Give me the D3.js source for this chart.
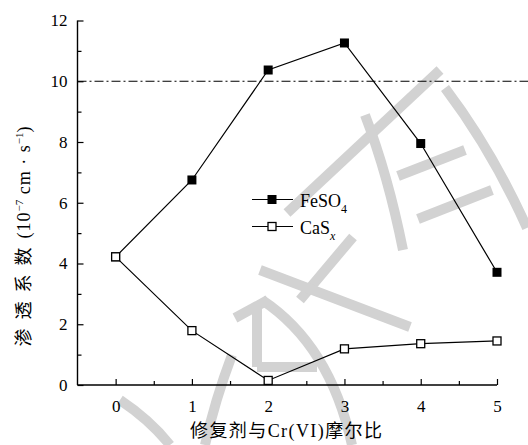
<!DOCTYPE html>
<html>
<head>
<meta charset="utf-8">
<script src="https://cdn.jsdelivr.net/npm/d3@7"></script>
<style>
  html, body { margin: 0; padding: 0; background: #fff; }
  svg { display: block; }
  text { font-family: "Liberation Serif", "Times New Roman", "Noto Sans CJK SC", serif; fill: #000; }
</style>
</head>
<body>
<svg id="chart" width="528" height="445"></svg>
<script>
// Molar ratio of remediation agent to Cr(VI)
const ratios = [0, 1, 2, 3, 4, 5];
// Permeability coefficient, 10^-7 cm/s
const feso4 = [4.22, 6.75, 10.37, 11.26, 7.95, 3.71];
const casx  = [4.22, 1.79, 0.15, 1.19, 1.36, 1.45];
const limitValue = 10;
const xTicks = [0, 1, 2, 3, 4, 5];
const xMinor = [0.5, 1.5, 2.5, 3.5, 4.5];
const yTicks = [0, 2, 4, 6, 8, 10, 12];
const yMinor = [1, 3, 5, 7, 9, 11];

const SERIF = "'Liberation Serif', 'Times New Roman', serif";
const CJK = "'Noto Sans CJK SC', sans-serif";

const svg = d3.select("#chart");
const W = 528;

const x = d3.scaleLinear().domain([-0.5, 5]).range([77.5, 497]);
const y = d3.scaleLinear().domain([0, 12]).range([385, 20.5]);

// light grey brush strokes in the background
const bgStrokes = [
  "M440,70 Q370,135 287,213",
  "M365,115 Q388,175 403,250",
  "M445,88 Q492,150 527,228",
  "M398,176 L465,150",
  "M418,219 L492,190",
  "M353,237 Q325,270 300,300",
  "M260,270 L410,327",
  "M262,300 Q330,345 352,445",
  "M257,308 L257,367",
  "M257,367 L317,367",
  "M235,318 L268,300",
  "M232,355 Q215,400 205,445",
  "M120,400 Q150,420 170,445"
];
svg.append("g")
  .selectAll("path").data(bgStrokes).join("path")
  .attr("d", d => d)
  .attr("fill", "none")
  .attr("stroke", "#d2d2d2")
  .attr("stroke-width", 10)
  .attr("stroke-linecap", "butt");

// y axis (ticks point inward)
const yAxis = svg.append("g").attr("transform", "translate(77.5,0)");
yAxis.call(d3.axisLeft(y).tickValues(yTicks).tickSize(-6).tickPadding(10).tickFormat(d3.format("d")));
yAxis.append("g").call(d3.axisLeft(y).tickValues(yMinor).tickSize(-4).tickFormat(""))
  .select(".domain").remove();

// x axis
const xAxis = svg.append("g").attr("transform", "translate(0,385)");
xAxis.call(d3.axisBottom(x).tickValues(xTicks).tickSize(-6).tickPadding(15).tickFormat(d3.format("d")));
xAxis.append("g").call(d3.axisBottom(x).tickValues(xMinor).tickSize(-4).tickFormat(""))
  .select(".domain").remove();

yAxis.select(".domain").attr("d", `M0,${y(12)}V${y(0)}`);
xAxis.select(".domain").attr("d", `M${x(-0.5)},0H${x(5)}`);

[yAxis, xAxis].forEach(g => g.attr("font-family", SERIF).attr("font-size", 17));
svg.selectAll(".tick line").attr("stroke", "#000").attr("stroke-width", 1.2);
svg.selectAll(".domain").attr("stroke", "#000").attr("stroke-width", 1.4);
svg.selectAll(".tick text")
  .attr("font-family", SERIF)
  .style("font-family", SERIF)
  .style("font-size", "17px")
  .attr("fill", "#000");

// reference level
svg.append("line")
  .attr("x1", x(-0.5)).attr("x2", W)
  .attr("y1", y(limitValue)).attr("y2", y(limitValue))
  .attr("stroke", "#000").attr("stroke-width", 1.2)
  .attr("stroke-dasharray", "9,3,2,3");

const line = d3.line().x((d, i) => x(ratios[i])).y(d => y(d));

// FeSO4 series
svg.append("path").datum(feso4)
  .attr("d", line).attr("fill", "none").attr("stroke", "#000").attr("stroke-width", 1.2);
// CaSx series
svg.append("path").datum(casx)
  .attr("d", line).attr("fill", "none").attr("stroke", "#000").attr("stroke-width", 1.2);

const s1 = 9, s2 = 8;
svg.append("g").selectAll("rect").data(feso4).join("rect")
  .attr("x", (d, i) => x(ratios[i]) - s1 / 2)
  .attr("y", d => y(d) - s1 / 2)
  .attr("width", s1).attr("height", s1)
  .attr("fill", "#000");
svg.append("g").selectAll("rect").data(casx).join("rect")
  .attr("x", (d, i) => x(ratios[i]) - s2 / 2)
  .attr("y", d => y(d) - s2 / 2)
  .attr("width", s2).attr("height", s2)
  .attr("fill", "#fff").attr("stroke", "#000").attr("stroke-width", 1.3);

// legend
const legend = svg.append("g");
const legItems = [
  { name: "FeSO", sub: "4", italic: false, filled: true, yy: 199.5 },
  { name: "CaS", sub: "x", italic: true, filled: false, yy: 226.5 }
];
legItems.forEach(it => {
  legend.append("line")
    .attr("x1", 252).attr("x2", 293).attr("y1", it.yy).attr("y2", it.yy)
    .attr("stroke", "#000").attr("stroke-width", 1.2);
  const s = it.filled ? s1 : s2;
  const r = legend.append("rect")
    .attr("x", 272 - s / 2).attr("y", it.yy - s / 2)
    .attr("width", s).attr("height", s);
  if (it.filled) r.attr("fill", "#000");
  else r.attr("fill", "#fff").attr("stroke", "#000").attr("stroke-width", 1.3);
  const t = legend.append("text")
    .attr("x", 300).attr("y", it.yy + 7)
    .style("font-family", SERIF)
    .style("font-size", "18px");
  t.append("tspan").text(it.name);
  t.append("tspan").attr("dy", 6).style("font-size", "12px")
    .style("font-style", it.italic ? "italic" : "normal").text(it.sub);
});

// axis titles
const yt = svg.append("text")
  .attr("transform", "translate(30,236.5) rotate(-90)")
  .attr("text-anchor", "middle")
  .style("font-family", SERIF)
  .style("font-size", "18px");
yt.append("tspan").style("font-family", CJK).style("letter-spacing", "9px").text("渗透系数");
yt.append("tspan").style("letter-spacing", "1px").text("(10");
yt.append("tspan").attr("dy", -7).style("font-size", "11px").text("−7");
yt.append("tspan").attr("dy", 7).style("letter-spacing", "1px").text(" cm · s");
yt.append("tspan").attr("dy", -7).style("font-size", "11px").text("−1");
yt.append("tspan").attr("dy", 7).text(")");

const xt = svg.append("text")
  .attr("x", 286).attr("y", 437)
  .attr("text-anchor", "middle")
  .attr("textLength", 192).attr("lengthAdjust", "spacing")
  .style("font-family", SERIF)
  .style("font-size", "18px");
xt.append("tspan").style("font-family", CJK).text("修复剂与");
xt.append("tspan").text("Cr(VI)");
xt.append("tspan").style("font-family", CJK).text("摩尔比");
</script>
</body>
</html>
